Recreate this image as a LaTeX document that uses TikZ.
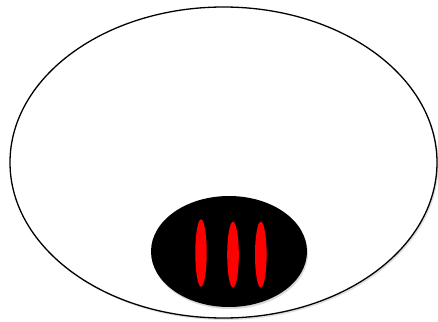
\documentclass[tikz,border=0pt]{standalone}
\begin{document}
\begin{tikzpicture}[x=1pt,y=-1pt,
  face/.style={draw=black,line width=1.3pt,fill=white},
  snout/.style={fill=black},
  slit/.style={fill=red}]
\useasboundingbox (0,0) rectangle (438,321);
\fill[black!12] (225,164.5) ellipse [x radius=213.5, y radius=155.5];
\draw[face] (223.5,162.5) ellipse [x radius=213.5, y radius=155.5];
\fill[black!15] (230,253.5) ellipse [x radius=78, y radius=55.5];
\fill[snout] (229,251.5) ellipse [x radius=78, y radius=55.5];
\fill[slit] (201,253) ellipse [x radius=5.7, y radius=33.7];
\fill[slit] (233,254.7) ellipse [x radius=5.8, y radius=33];
\fill[slit] (260.8,254.7) ellipse [x radius=5.8, y radius=33];
\end{tikzpicture}
\end{document}
